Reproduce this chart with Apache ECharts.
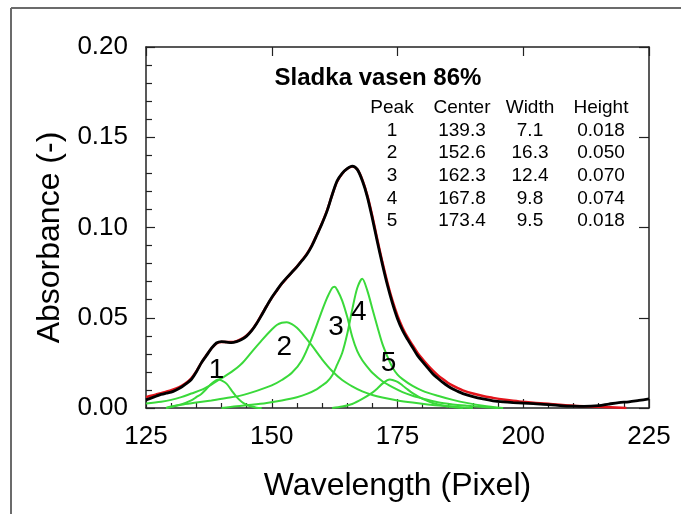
<!DOCTYPE html>
<html>
<head>
<meta charset="utf-8">
<script src="https://cdn.jsdelivr.net/npm/echarts@6/dist/echarts.min.js"></script>
<style>
  html, body { margin: 0; padding: 0; background: #fff; }
  #chart { width: 681px; height: 514px; }
</style>
</head>
<body>
<div id="chart"></div>
<script>
// measured absorbance (black) and total fit (red), [wavelength, absorbance]
const measured = [
  [125,0.0045],[126,0.0055],[127,0.0065],[128,0.0075],[129,0.0082],[130,0.0088],[131,0.0100],
  [132,0.0115],[133,0.0135],[134,0.0158],[135,0.0200],[136,0.0250],[137,0.0290],[138,0.0330],
  [139,0.0360],[140,0.0368],[141,0.0365],[142,0.0362],[143,0.0368],[144,0.0380],[145,0.0398],
  [146,0.0428],[147,0.0468],[148,0.0515],[149,0.0565],[150,0.0612],[151,0.0652],[152,0.0690],
  [153,0.0722],[154,0.0752],[155,0.0782],[156,0.0816],[157,0.0852],[158,0.0900],[159,0.0960],
  [160,0.1022],[161,0.1092],[162,0.1180],[163,0.1258],[164,0.1300],[165,0.1326],[166,0.1340],
  [167,0.1322],[168,0.1260],[169,0.1170],[170,0.1050],[171,0.0920],[172,0.0795],[173,0.0680],
  [174,0.0580],[175,0.0495],[176,0.0430],[177,0.0380],[178,0.0335],[179,0.0290],[180,0.0255],
  [181,0.0222],[182,0.0190],[183,0.0165],[184,0.0142],[185,0.0122],[186,0.0105],[187,0.0092],
  [188,0.0080],[190,0.0063],[192,0.0050],[194,0.0040],[196,0.0034],[198,0.0030],[200,0.0027],
  [202,0.0024],[205,0.0019],[208,0.0012],[210,0.0010],[212,0.0009],[215,0.0013],[217,0.0022],
  [219,0.0030],[221,0.0034],[223,0.0042],[225,0.0050]
];
const fitted = [
  [125,0.0060],[126,0.0068],[127,0.0075],[128,0.0082],[129,0.0090],[130,0.0098],[131,0.0108],
  [132,0.0122],[133,0.0140],[134,0.0165],[135,0.0203],[136,0.0250],[137,0.0292],[138,0.0330],
  [139,0.0358],[140,0.0366],[141,0.0366],[142,0.0365],[143,0.0370],[144,0.0383],[145,0.0402],
  [146,0.0430],[147,0.0470],[148,0.0518],[149,0.0565],[150,0.0610],[151,0.0650],[152,0.0688],
  [153,0.0720],[154,0.0752],[155,0.0783],[156,0.0818],[157,0.0855],[158,0.0903],[159,0.0962],
  [160,0.1025],[161,0.1095],[162,0.1180],[163,0.1255],[164,0.1298],[165,0.1325],[166,0.1338],
  [167,0.1322],[168,0.1265],[169,0.1178],[170,0.1062],[171,0.0932],[172,0.0808],[173,0.0694],
  [174,0.0595],[175,0.0512],[176,0.0445],[177,0.0392],[178,0.0348],[179,0.0305],[180,0.0270],
  [181,0.0238],[182,0.0208],[183,0.0182],[184,0.0160],[185,0.0140],[186,0.0124],[187,0.0110],
  [188,0.0098],[190,0.0080],[192,0.0066],[194,0.0056],[196,0.0047],[198,0.0040],[200,0.0034],
  [205,0.0023],[210,0.0013],[215,0.0007],[220.5,0.0]
];

// fitted component peaks (green)
const peak1 = [
  [129,0.0000],[130,0.0008],[132,0.0020],[134,0.0042],[135,0.0060],[136,0.0078],[137,0.0105],
  [138,0.0135],[139,0.0155],[139.5,0.0158],[140,0.0153],[141,0.0135],[142,0.0098],[143,0.0062],
  [144,0.0035],[145,0.0018],[146,0.0008],[147,0.0002],[148,0.0000]
];
const peak2 = [
  [125,0.0025],[128,0.0035],[130,0.0045],[132,0.0060],[134,0.0080],[136,0.0100],[138,0.0130],
  [140,0.0165],[142,0.0200],[144,0.0245],[146,0.0310],[148,0.0375],[150,0.0435],[151,0.0460],
  [152,0.0472],[153,0.0475],[154,0.0465],[155,0.0445],[156,0.0415],[158,0.0345],[160,0.0270],
  [162,0.0205],[164,0.0155],[166,0.0120],[168,0.0092],[170,0.0072],[172,0.0058],[175,0.0042],
  [178,0.0030],[181,0.0020],[184,0.0012],[187,0.0006],[190,0.0000]
];
const peak3 = [
  [129,0.0000],[132,0.0018],[135,0.0030],[138,0.0042],[141,0.0055],[144,0.0070],[147,0.0095],
  [150,0.0125],[152,0.0155],[154,0.0195],[156,0.0265],[158,0.0390],[160,0.0540],[161,0.0610],
  [162,0.0665],[162.5,0.0672],[163,0.0655],[164,0.0595],[165,0.0505],[166,0.0395],[167,0.0315],
  [168,0.0265],[169,0.0228],[170,0.0195],[172,0.0148],[174,0.0115],[176,0.0088],[178,0.0068],
  [180,0.0053],[183,0.0032],[186,0.0020],[189,0.0012],[192,0.0005],[195,0.0000]
];
const peak4 = [
  [140,0.0000],[143,0.0010],[146,0.0018],[149,0.0028],[152,0.0042],[155,0.0060],[157,0.0078],
  [159,0.0105],[160,0.0125],[161,0.0145],[162,0.0180],[163,0.0240],[164,0.0305],[165,0.0410],
  [166,0.0545],[167,0.0665],[168,0.0716],[169,0.0650],[170,0.0550],[171,0.0450],[172,0.0355],
  [173,0.0285],[174,0.0225],[175,0.0185],[176,0.0160],[178,0.0122],[180,0.0095],[183,0.0068],
  [186,0.0045],[189,0.0027],[192,0.0013],[196,0.0000]
];
const peak5 = [
  [162,0.0000],[164,0.0008],[166,0.0022],[168,0.0050],[170,0.0085],[171,0.0108],[172,0.0135],
  [173,0.0155],[173.5,0.0158],[174,0.0155],[175,0.0145],[176,0.0125],[177,0.0103],[178,0.0082],
  [180,0.0050],[182,0.0028],[184,0.0014],[186,0.0005],[188,0.0000]
];

// peak number labels placed in data space
const peakLabels = [
  [139, 0.021, '1'], [152.5, 0.0335, '2'], [162.8, 0.0445, '3'], [167.3, 0.053, '4'], [173.2, 0.025, '5']
];

// results table
const chartTitle = 'Sladka vasen 86%';
const tableHeader = ['Peak', 'Center', 'Width', 'Height'];
const peakIds = ['1', '2', '3', '4', '5'];
const peakCenters = ['139.3', '152.6', '162.3', '167.8', '173.4'];
const peakWidths = ['7.1', '16.3', '12.4', '9.8', '9.5'];
const peakHeights = ['0.018', '0.050', '0.070', '0.074', '0.018'];

const font = 'Liberation Sans, Arial, sans-serif';
const axisColor = '#222';
const green = '#3ad93a';

const chart = echarts.init(document.getElementById('chart'));

// table as text graphics
const colX = [392, 462, 530, 601];
const headerY = 108;
const rowGap = 22.6;
const tableGraphics = [];
tableHeader.forEach((h, i) => {
  tableGraphics.push({ type: 'text', x: colX[i], y: headerY,
    style: { text: h, font: '19px ' + font, fill: '#000', textAlign: 'center', textVerticalAlign: 'middle' } });
});
[peakIds, peakCenters, peakWidths, peakHeights].forEach((col, i) => {
  col.forEach((v, r) => {
    tableGraphics.push({ type: 'text', x: colX[i], y: headerY + rowGap * (r + 1),
      style: { text: v, font: '19px ' + font, fill: '#000', textAlign: 'center', textVerticalAlign: 'middle' } });
  });
});

const greenSeries = [peak1, peak2, peak3, peak4, peak5].map((d, i) => ({
  name: 'Peak ' + (i + 1),
  type: 'line',
  data: d,
  showSymbol: false,
  smooth: 0.3,
  lineStyle: { color: green, width: 2 },
  z: 2
}));

const option = {
  backgroundColor: '#fff',
  animation: false,
  textStyle: { fontFamily: font },
  grid: { left: 146, right: 32, top: 47, bottom: 106 },
  xAxis: [
    {
      type: 'value', min: 125, max: 225, interval: 25, position: 'bottom',
      name: 'Wavelength (Pixel)', nameLocation: 'middle', nameGap: 62,
      nameTextStyle: { fontSize: 32, color: '#000', fontFamily: font },
      axisLine: { show: true, onZero: false, lineStyle: { color: axisColor, width: 1.5 } },
      axisTick: { show: true, inside: true, length: 9, lineStyle: { color: axisColor, width: 1.2 } },
      minorTick: { show: true, splitNumber: 5, length: 5, lineStyle: { color: axisColor, width: 1.2 } },
      axisLabel: { fontSize: 26, margin: 16, color: '#000', fontFamily: font },
      splitLine: { show: false }
    },
    {
      type: 'value', min: 125, max: 225, interval: 25, position: 'top',
      axisLine: { show: true, onZero: false, lineStyle: { color: axisColor, width: 1.5 } },
      axisTick: { show: true, inside: true, length: 9, lineStyle: { color: axisColor, width: 1.2 } },
      axisLabel: { show: false },
      splitLine: { show: false }
    }
  ],
  yAxis: [
    {
      type: 'value', min: 0, max: 0.2, interval: 0.05, position: 'left',
      name: 'Absorbance (-)', nameLocation: 'middle', nameGap: 80, nameRotate: 90,
      nameTextStyle: { fontSize: 32, color: '#000', fontFamily: font, padding: [0, 20, 0, 0] },
      axisLine: { show: true, onZero: false, lineStyle: { color: axisColor, width: 1.5 } },
      axisTick: { show: true, inside: true, length: 9, lineStyle: { color: axisColor, width: 1.2 } },
      minorTick: { show: true, splitNumber: 5, length: 6, lineStyle: { color: axisColor, width: 1.2 } },
      axisLabel: { fontSize: 26, margin: 18, color: '#000', fontFamily: font, formatter: v => v.toFixed(2) },
      splitLine: { show: false }
    },
    {
      type: 'value', min: 0, max: 0.2, interval: 0.05, position: 'right',
      axisLine: { show: true, onZero: false, lineStyle: { color: axisColor, width: 1.5 } },
      axisTick: { show: true, inside: true, length: 10, lineStyle: { color: axisColor, width: 1.2 } },
      axisLabel: { show: false },
      splitLine: { show: false }
    }
  ],
  graphic: [
    { type: 'line', shape: { x1: 11, y1: 8, x2: 681, y2: 8 }, style: { stroke: '#6b6b6b', lineWidth: 2 } },
    { type: 'line', shape: { x1: 11, y1: 8, x2: 11, y2: 514 }, style: { stroke: '#6b6b6b', lineWidth: 2 } },
    { type: 'text', x: 378, y: 78,
      style: { text: chartTitle, font: 'bold 24px ' + font, fill: '#000', textAlign: 'center', textVerticalAlign: 'middle' } },
    ...tableGraphics
  ],
  series: [
    ...greenSeries,
    {
      name: 'Fit', type: 'line', data: fitted, showSymbol: false, smooth: 0.3,
      lineStyle: { color: '#e3141b', width: 2.5 }, z: 3
    },
    {
      name: 'Measured', type: 'line', data: measured, showSymbol: false, smooth: 0.3,
      lineStyle: { color: '#000', width: 2.8 }, z: 4
    },
    {
      name: 'labels', type: 'scatter', data: peakLabels, symbolSize: 0, z: 5,
      itemStyle: { opacity: 1 },
      label: { show: true, position: 'inside', formatter: p => p.data[2], fontSize: 28, color: '#000',
        fontFamily: font, textBorderWidth: 0, opacity: 1 }
    }
  ]
};

chart.setOption(option);
</script>
</body>
</html>
